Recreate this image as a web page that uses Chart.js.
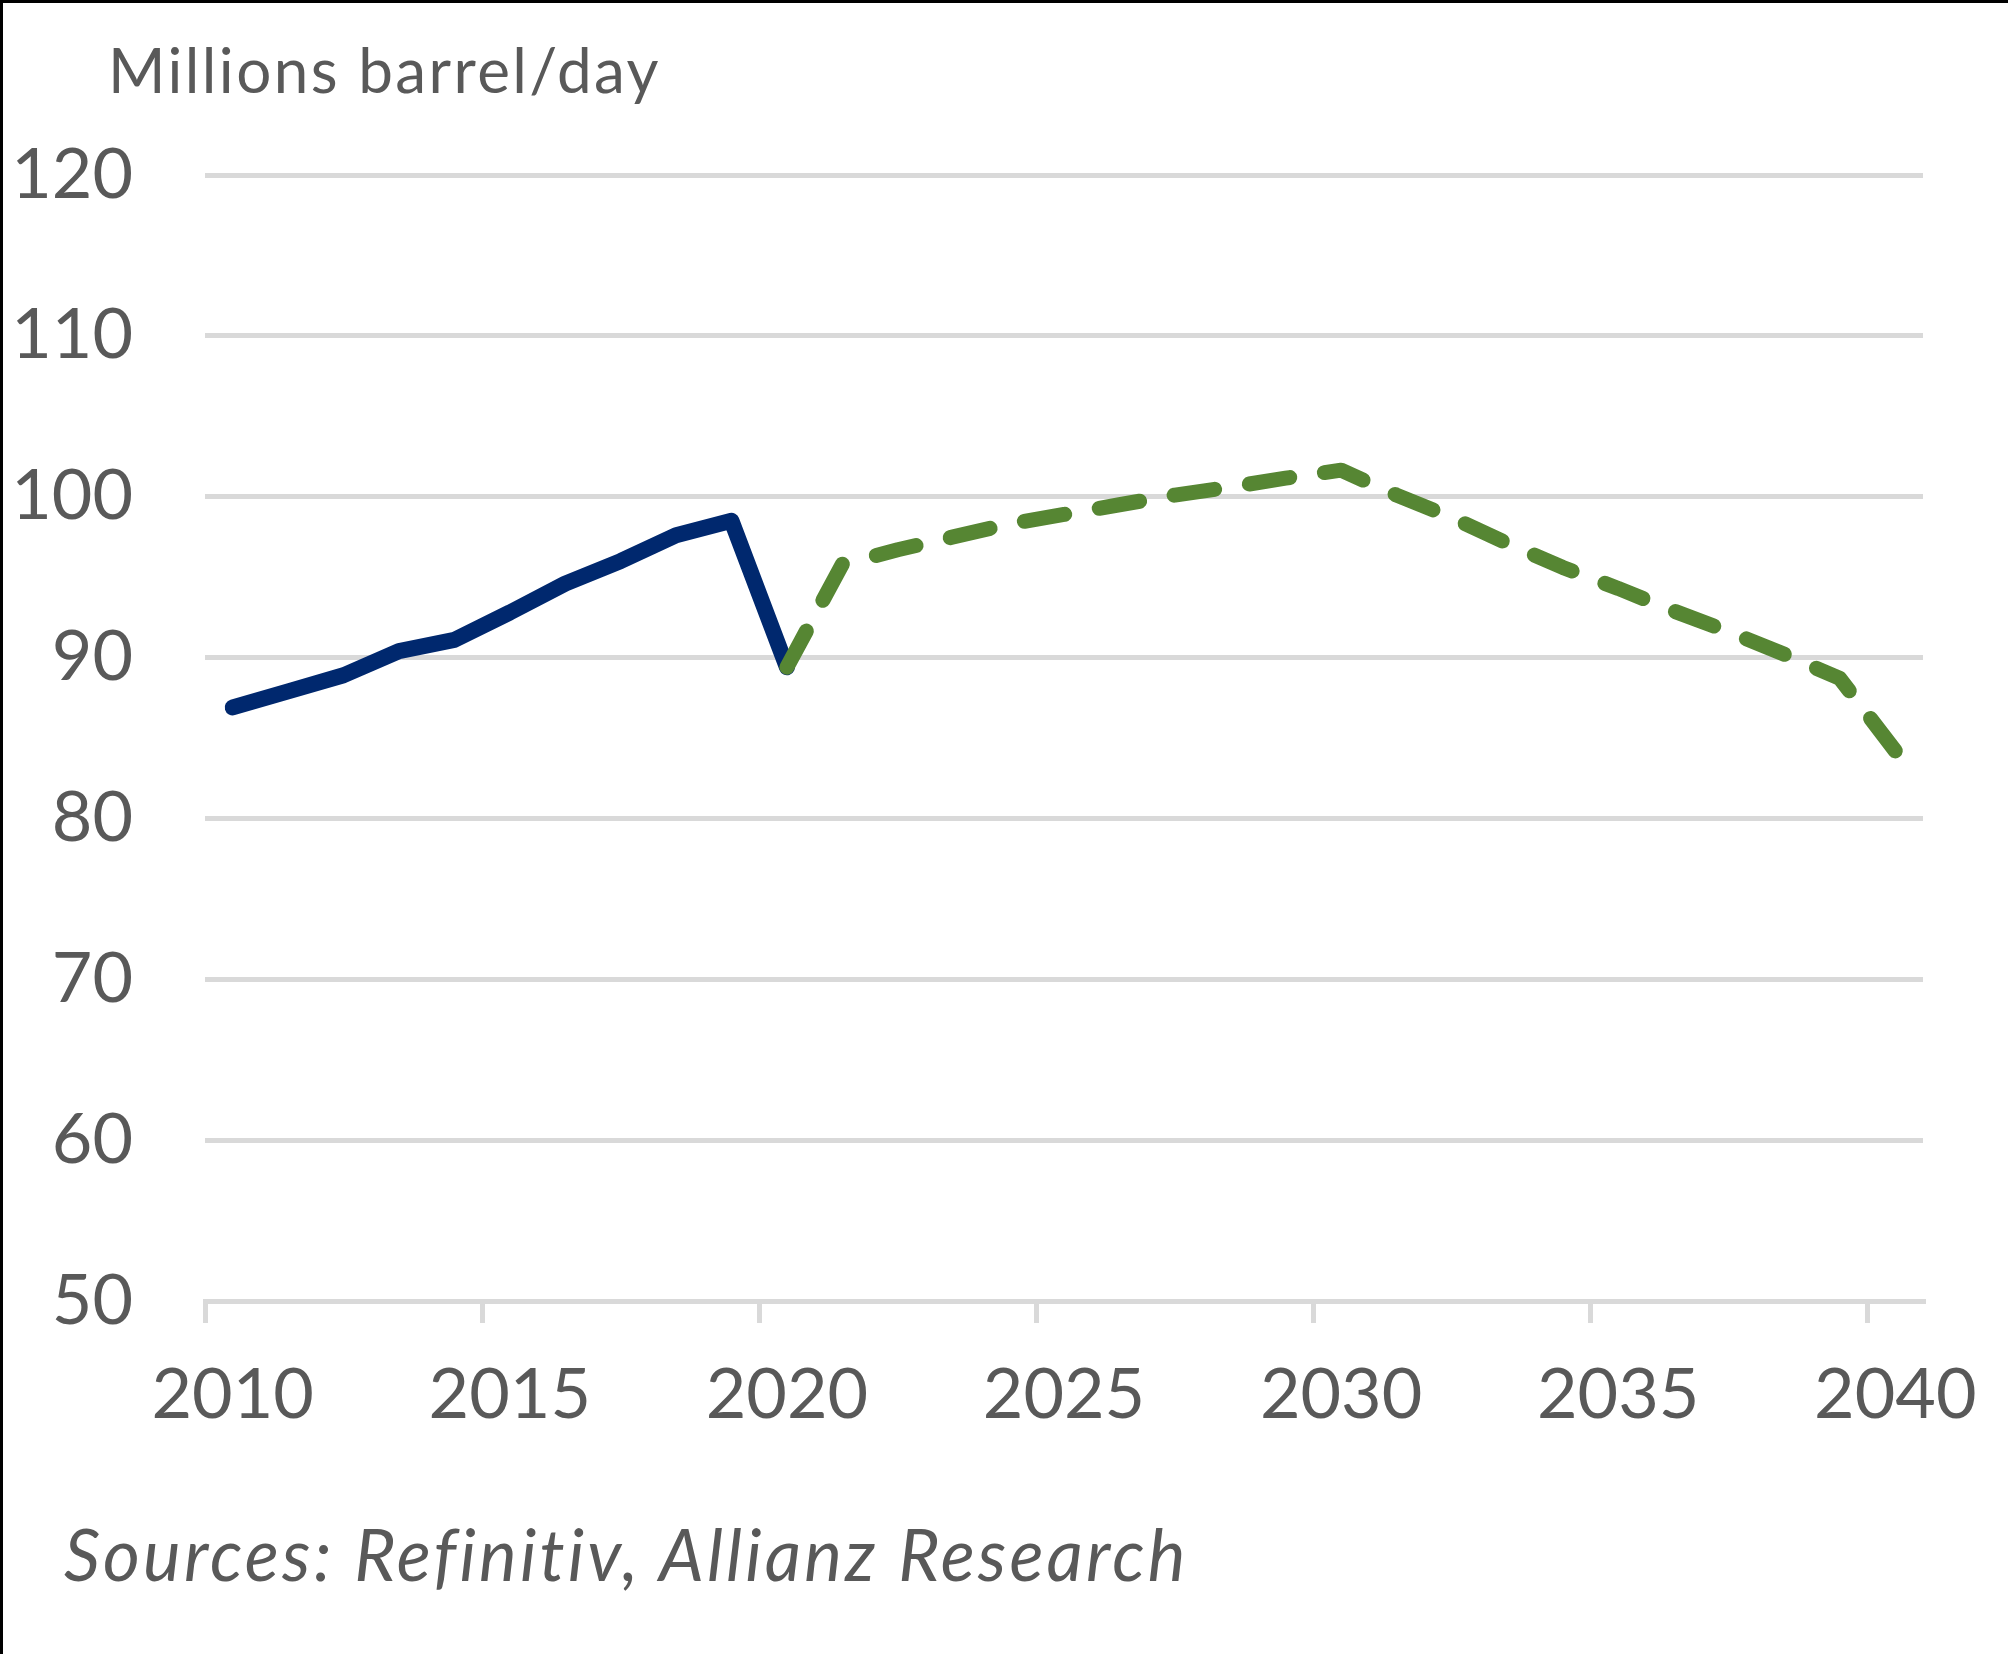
<!DOCTYPE html>
<html>
<head>
<meta charset="utf-8">
<script src="https://cdn.jsdelivr.net/npm/chart.js@4.4.1/dist/chart.umd.min.js"></script>
<style>
    html, body { margin: 0; padding: 0; background: #fff; }
    #frame {
        position: relative;
        width: 2008px;
        height: 1654px;
        box-sizing: border-box;
        border-top: 3px solid #000;
        border-left: 3px solid #000;
        overflow: hidden;
    }
    #chart_box { position: absolute; left: -3px; top: -3px; width: 2008px; height: 1654px; }
    .txt { position: absolute; font-family: Lato, sans-serif; color: #595959; line-height: 1; white-space: nowrap; }
    #unidad { left: 105px; top: 35px; font-size: 62px; letter-spacing: 2.4px; }
    #fuente { left: 61px; top: 1515px; font-size: 71px; font-style: italic; letter-spacing: 3.2px; }
</style>
</head>
<body>
<div id="frame">
    <div id="chart_box"><canvas id="grafica"></canvas></div>
    <div class="txt" id="unidad">Millions barrel/day</div>
    <div class="txt" id="fuente">Sources: Refinitiv, Allianz Research</div>
</div>
<script>
/* Datos */
let anios = [];
for (let a = 2010; a <= 2040; a++) anios.push(String(a));

// historico 2010-2020
let historico = [86.9, 87.9, 88.9, 90.4, 91.1, 92.8, 94.6, 96.0, 97.6, 98.5, 89.4,
    null, null, null, null, null, null, null, null, null, null,
    null, null, null, null, null, null, null, null, null, null];

// proyeccion 2020-2040
let proyeccion = [null, null, null, null, null, null, null, null, null, null, 89.4,
    95.8, 96.7, 97.5, 98.3, 98.9, 99.5, 100.1, 100.6, 101.15, 101.65,
    100.1, 98.7, 97.1, 95.6, 94.3, 92.9, 91.6, 90.2, 88.7, 84.2];

let ticksY = [50, 60, 70, 80, 90, 100, 110, 120];

const gris = '#d9d9d9';
const textoGris = '#595959';

let ctx = document.getElementById('grafica').getContext('2d');
let grafica = new Chart(ctx, {
    type: 'line',
    data: {
        labels: anios,
        datasets: [{
            label: 'Forecast',
            data: proyeccion,
            borderColor: '#568633',
            borderWidth: 15,
            borderDash: [41, 35],
            borderCapStyle: 'round',
            borderJoinStyle: 'round',
            pointRadius: 0,
            tension: 0,
            order: 0
        }, {
            label: 'Historical',
            data: historico,
            borderColor: '#00286e',
            borderWidth: 16,
            borderCapStyle: 'round',
            borderJoinStyle: 'round',
            pointRadius: 0,
            tension: 0,
            order: 1
        }]
    },
    options: {
        responsive: true,
        maintainAspectRatio: false,
        animation: false,
        devicePixelRatio: 1,
        layout: {
            padding: { left: 0, right: 85, top: 175, bottom: 203 }
        },
        plugins: {
            legend: { display: false },
            tooltip: { enabled: false }
        },
        scales: {
            x: {
                type: 'category',
                offset: true,
                afterFit: function(scale) { scale.height = 150; },
                grid: {
                    offset: true,
                    drawOnChartArea: false,
                    drawTicks: true,
                    tickLength: 22,
                    lineWidth: 5,
                    color: function(c) { return c.index % 5 === 0 ? gris : 'rgba(0,0,0,0)'; }
                },
                border: { display: true, color: gris, width: 5 },
                ticks: {
                    autoSkip: false,
                    maxRotation: 0,
                    minRotation: 0,
                    padding: 30,
                    color: textoGris,
                    font: { family: 'Lato', size: 70 },
                    callback: function(value, index) {
                        return index % 5 === 0 ? anios[index] : '';
                    }
                }
            },
            y: {
                min: ticksY[0],
                max: ticksY[ticksY.length - 1],
                afterFit: function(scale) { scale.width = 205; },
                afterBuildTicks: function(scale) {
                    scale.ticks = ticksY.map(v => ({ value: v }));
                },
                grid: {
                    drawTicks: false,
                    lineWidth: 5,
                    color: gris
                },
                border: { display: false },
                ticks: {
                    padding: 72,
                    color: textoGris,
                    font: { family: 'Lato', size: 70 }
                }
            }
        }
    }
});
</script>
</body>
</html>
